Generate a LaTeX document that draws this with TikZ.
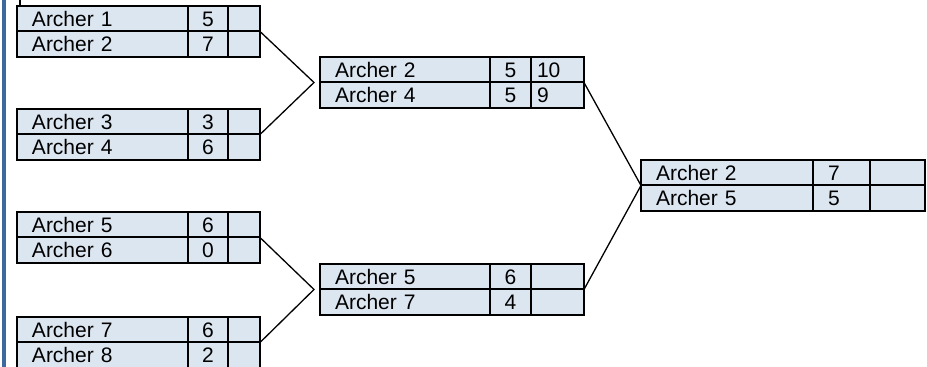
\documentclass[tikz,border=0pt]{standalone}
\usepackage{fontspec}
\setmainfont{Liberation Sans}
\usepackage{tikz}
\usetikzlibrary{positioning}
\definecolor{cellblue}{HTML}{DCE6F1}
\definecolor{barblue}{HTML}{3C6A9F}
\tikzstyle{cell}=[draw,fill=cellblue,rectangle,line width=1pt,minimum height=12.75pt,inner ysep=0pt,outer sep=0pt,text height=9pt,text depth=1.5pt,font=\fontsize{10.5}{12}\selectfont]
\tikzstyle{namecell}=[cell,anchor=north west,inner xsep=7.5pt,align=left]
\tikzstyle{scorecell}=[cell,inner xsep=0pt,align=center]
\tikzstyle{extracell}=[cell,inner xsep=3pt,align=left]
\tikzstyle{link}=[line width=0.65pt]

\begin{document}
\begin{tikzpicture}[x=0.5pt,y=-0.5pt]
  \useasboundingbox (0,0) rectangle (927,367);
  \fill[barblue] (2,0) rectangle (6,367);
  % first round
  \foreach \i/\s/\y in {1/5/6, 2/7/31.5, 3/3/109, 4/6/134.5, 5/6/212, 6/0/237.5, 7/6/317, 8/2/342.5} {
    \node[namecell, text width=70.5pt] (a\i) at (17,\y) {Archer \i};
    \node[scorecell, text width=20pt, right=0pt of a\i] (as\i) {\s};
    \node[extracell, text width=10pt, right=0pt of as\i] (ax\i) {};
  }
  \draw[line width=1pt] ([xshift=1.25pt]a1.north west) -- ++(0,3pt);
  % semi finals
  \foreach \i/\n/\s/\t/\y in {1/2/5/10/57, 2/4/5/9/82.5, 3/5/6//264, 4/7/4//289.5} {
    \node[namecell, text width=70pt] (b\i) at (320,\y) {Archer \n};
    \node[scorecell, text width=20.5pt, right=0pt of b\i] (bs\i) {\s};
    \node[extracell, text width=20.5pt, right=0pt of bs\i] (bx\i) {\t};
  }
  % final
  \foreach \i/\n/\s/\y in {1/2/7/160, 2/5/5/185.5} {
    \node[namecell, text width=71pt] (c\i) at (641,\y) {Archer \n};
    \node[namecell, anchor=west, text width=13.5pt, right=0pt of c\i] (cs\i) {\s};
    \node[extracell, text width=21.5pt, right=0pt of cs\i] (cx\i) {};
  }
  \draw[link] (ax1.south east) -- ([xshift=-3pt]b1.south west) -- (ax3.south east);
  \draw[link] (ax5.south east) -- ([xshift=-3pt]b3.south west) -- (ax7.south east);
  \draw[link] (bx1.south east) -- (c1.south west) -- (bx3.south east);
\end{tikzpicture}
\end{document}
